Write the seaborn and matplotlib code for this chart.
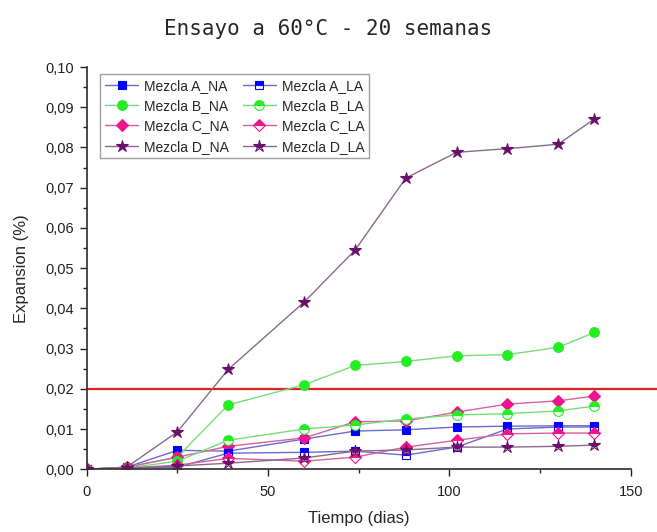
import numpy as np
import pandas as pd
import matplotlib
matplotlib.use("Agg")
import matplotlib.pyplot as plt
from matplotlib.ticker import MultipleLocator, FuncFormatter
import seaborn as sns

# datos
dias = [0, 11, 25, 39, 60, 74, 88, 102, 116, 130, 140]

a_na = [0, 0.0005, 0.0047, 0.0045, 0.0075, 0.0095, 0.0098, 0.0105, 0.0107, 0.0108, 0.0108]
a_la = [0, 0.0003, 0.0005, 0.0040, 0.0042, 0.0045, 0.0035, 0.0055, 0.0100, 0.0105, 0.0105]
b_na = [0, 0.0005, 0.0030, 0.0160, 0.0210, 0.0258, 0.0268, 0.0282, 0.0285, 0.0303, 0.0340]
b_la = [0, 0.0003, 0.0020, 0.0072, 0.0100, 0.0110, 0.0125, 0.0135, 0.0138, 0.0145, 0.0157]
c_na = [0, 0.0005, 0.0030, 0.0057, 0.0078, 0.0118, 0.0120, 0.0142, 0.0162, 0.0170, 0.0182]
c_la = [0, 0.0003, 0.0010, 0.0027, 0.0020, 0.0030, 0.0055, 0.0072, 0.0088, 0.0090, 0.0090]
d_na = [0, 0.0005, 0.0093, 0.0248, 0.0416, 0.0545, 0.0724, 0.0788, 0.0797, 0.0808, 0.0871]
d_la = [0, 0.0003, 0.0008, 0.0015, 0.0028, 0.0045, 0.0048, 0.0055, 0.0055, 0.0057, 0.0060]

limite = 0.02

sns.set_theme(style="ticks")
plt.rcParams["font.family"] = ["Liberation Sans", "DejaVu Sans"]

fig = plt.figure(figsize=(6.57, 5.32), dpi=100)
ax = fig.add_axes([0.132, 0.118, 0.828, 0.756])

# (etiqueta, datos, marcador, color marcador, color linea, tamaño, relleno)
series = [
    ("Mezcla A_NA", a_na, "s", "#0000ff", "#6a6ad0", 6, "full"),
    ("Mezcla B_NA", b_na, "o", "#22ee22", "#77dd77", 7, "full"),
    ("Mezcla C_NA", c_na, "D", "#f0148c", "#d8609e", 6, "full"),
    ("Mezcla D_NA", d_na, "*", "#6a0f6a", "#8a6a8a", 9, "full"),
    ("Mezcla A_LA", a_la, "s", "#0000ff", "#6a6ad0", 6, "top"),
    ("Mezcla B_LA", b_la, "o", "#22ee22", "#77dd77", 7, "top"),
    ("Mezcla C_LA", c_la, "D", "#f0148c", "#d8609e", 6, "top"),
    ("Mezcla D_LA", d_la, "*", "#6a0f6a", "#8a6a8a", 9, "top"),
]

for lab, vals, mk, mc, lc, ms, fs in series:
    sns.lineplot(x=dias, y=vals, ax=ax, label=lab, color=lc, lw=1.0,
                 marker=mk, markersize=ms, markerfacecolor=mc,
                 markeredgecolor=mc, markeredgewidth=0.8, fillstyle=fs,
                 markerfacecoloralt="white")

ax.axhline(limite, xmin=0, xmax=(657 - 87) / (631 - 87), color="#dd2020",
           lw=1.6, clip_on=False, zorder=1)

ax.set_xlim(0, 150)
ax.set_ylim(0, 0.10)
ax.xaxis.set_major_locator(MultipleLocator(50))
ax.xaxis.set_minor_locator(MultipleLocator(25))
ax.yaxis.set_major_locator(MultipleLocator(0.01))
ax.yaxis.set_minor_locator(MultipleLocator(0.005))
ax.yaxis.set_major_formatter(FuncFormatter(lambda v, p: f"{v:.2f}".replace(".", ",")))
ax.tick_params(which="major", direction="out", length=5, width=1, labelsize=10.5,
               colors="#222222", pad=4)
ax.tick_params(axis="x", which="major", pad=6)
ax.tick_params(which="minor", direction="out", length=3, width=1)
for s in ["top", "right"]:
    ax.spines[s].set_visible(False)
for s in ["left", "bottom"]:
    ax.spines[s].set_color("#333333")

ax.set_xlabel("Tiempo (dias)", fontsize=12, labelpad=9)
ax.set_ylabel("Expansion (%)", fontsize=12, labelpad=12)

leg = ax.legend(ncol=2, loc="upper left", bbox_to_anchor=(0.012, 1.0), fontsize=10,
                frameon=True, fancybox=False, edgecolor="#888888",
                handlelength=2.4, handletextpad=0.4, columnspacing=1.0,
                labelspacing=0.45, borderpad=0.35)
leg.get_frame().set_linewidth(1.0)

fig.suptitle("Ensayo a 60°C - 20 semanas", x=0.5, y=0.965,
             fontsize=15, family="DejaVu Sans Mono")

fig.savefig("out.png", dpi=100)
